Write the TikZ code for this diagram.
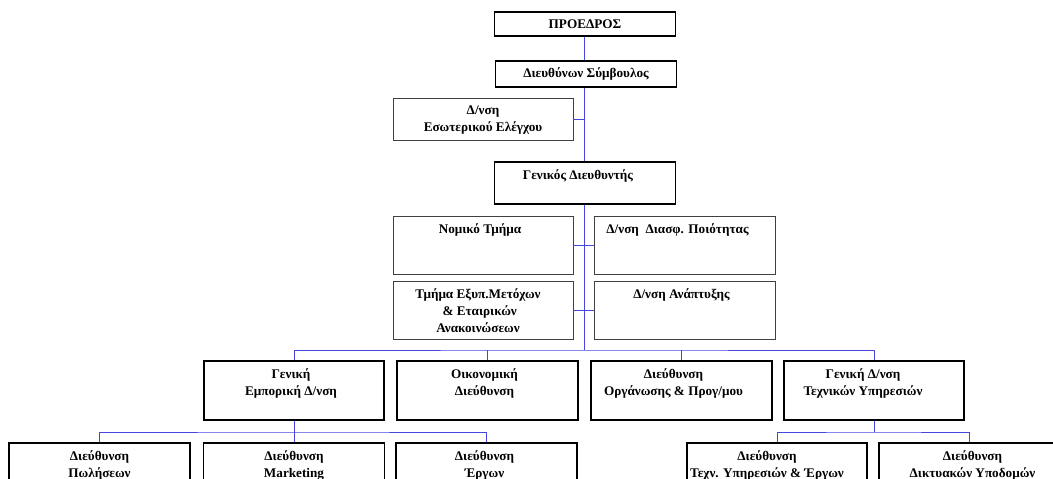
\documentclass[tikz,border=0pt]{standalone}
\usepackage{fontspec}
\setmainfont{Liberation Serif}
\begin{document}
\begin{tikzpicture}[x=1pt,y=-1pt,
  thickbox/.style={draw=black,line width=1.8pt,rectangle,inner sep=0pt,minimum width=181pt},
  thinbox/.style={draw=black!75,line width=0.9pt,rectangle,inner sep=0pt,minimum width=180pt},
  txt/.style={font=\fontsize{13.2}{17}\selectfont\bfseries,align=center,inner sep=0pt,anchor=north},
  conn/.style={draw={rgb,255:red,70;green,70;blue,225},line width=0.9pt}]
\useasboundingbox (0,0) rectangle (1053,479);
% boxes
\node[thickbox,minimum height=24pt] (pres) at (585,24) {};
\node[thickbox,minimum height=26pt] (ceo) at (586,74) {};
\node[thinbox,minimum height=42pt] (audit) at (483,119) {};
\node[thickbox,minimum height=42pt] (gm) at (585,183) {};
\node[thinbox,minimum height=58pt] (legal) at (483,245) {};
\node[thinbox,minimum height=58pt,minimum width=181pt] (qa) at (684.5,245) {};
\node[thinbox,minimum height=58pt] (ir) at (483,310) {};
\node[thinbox,minimum height=58pt,minimum width=181pt] (dev) at (684.5,310) {};
\node[thickbox,minimum height=59pt,minimum width=180pt] (com) at (294,390.5) {};
\node[thickbox,minimum height=59pt] (fin) at (487.5,390.5) {};
\node[thickbox,minimum height=59pt] (org) at (681.5,390.5) {};
\node[thickbox,minimum height=59pt,minimum width=180pt] (tech) at (874,390.5) {};
\node[thickbox,minimum height=60pt] (sales) at (99.5,473) {};
\node[thickbox,minimum height=60pt] (mkt) at (294,473) {};
\node[thickbox,minimum height=60pt] (proj) at (486.5,473) {};
\node[thickbox,minimum height=60pt,minimum width=180pt] (tp) at (777,473) {};
\node[thickbox,minimum height=60pt] (net) at (969.5,473) {};
% texts
\node[txt] (tpres) at ([yshift=-8pt]pres.north) {ΠΡΟΕΔΡΟΣ};
\node[txt] (tceo) at ([yshift=-7pt]ceo.north) {Διευθύνων Σύμβουλος};
\node[txt] (taudit) at ([yshift=-8pt]audit.north) {Δ/νση\\Εσωτερικού Ελέγχου};
\node[txt] (tgm) at ([xshift=-7pt,yshift=-8pt]gm.north) {Γενικός Διευθυντής};
\node[txt] (tlegal) at ([xshift=-3pt,yshift=-8pt]legal.north) {Νομικό Τμήμα};
\node[txt] (tqa) at ([xshift=-7pt,yshift=-8pt]qa.north) {Δ/νση\ \ Διασφ. Ποιότητας};
\node[txt] (tir) at ([xshift=-5pt,yshift=-8pt]ir.north) {Τμήμα Εξυπ.Μετόχων\\\ \& Εταιρικών\\Ανακοινώσεων};
\node[txt] (tdev) at ([xshift=-3pt,yshift=-8pt]dev.north) {Δ/νση Ανάπτυξης};
\node[txt] (tcom) at ([xshift=-3pt,yshift=-8pt]com.north) {Γενική\\Εμπορική Δ/νση};
\node[txt] (tfin) at ([xshift=-3pt,yshift=-8pt]fin.north) {Οικονομική\\Διεύθυνση};
\node[txt] (torg) at ([xshift=-8pt,yshift=-8pt]org.north) {Διεύθυνση\\Οργάνωσης \& Προγ/μου};
\node[txt] (ttech) at ([xshift=-11pt,yshift=-8pt]tech.north) {Γενική Δ/νση\\Τεχνικών Υπηρεσιών};
\node[txt] (tsales) at ([yshift=-8pt]sales.north) {Διεύθυνση\\Πωλήσεων};
\node[txt] (tmkt) at ([yshift=-8pt]mkt.north) {Διεύθυνση\\Marketing};
\node[txt] (tproj) at ([xshift=-2pt,yshift=-8pt]proj.north) {Διεύθυνση\\Έργων};
\node[txt] (ttp) at ([xshift=-10pt,yshift=-8pt]tp.north) {Διεύθυνση\\Τεχν. Υπηρεσιών \& Έργων};
\node[txt] (tnet) at ([xshift=3pt,yshift=-8pt]net.north) {Διεύθυνση\\Δικτυακών Υποδομών};
% connectors
\coordinate (bus) at (584,350);
\coordinate (sbl) at (294,432);
\coordinate (sbr) at (874,432);
\draw[conn] (pres.south -| bus) -- (ceo.north -| bus);
\draw[conn] (ceo.south -| bus) -- (gm.north -| bus);
\draw[conn] (audit.east) -- (audit.east -| bus);
\draw[conn] (gm.south -| bus) -- (bus);
\draw[conn] (legal.east) -- (qa.west);
\draw[conn] (ir.east) -- (dev.west);
\draw[conn] (com.north) |- (bus) -| (tech.north);
\draw[conn] (fin.north) -- (fin.north |- bus);
\draw[conn] (org.north) -- (org.north |- bus);
\draw[conn] (sales.north) |- (sbl) -| (proj.north);
\draw[conn] (com.south) -- (mkt.north);
\draw[conn] (tp.north) |- (sbr) -| (net.north);
\draw[conn] (tech.south) -- (sbr);
\end{tikzpicture}
\end{document}
